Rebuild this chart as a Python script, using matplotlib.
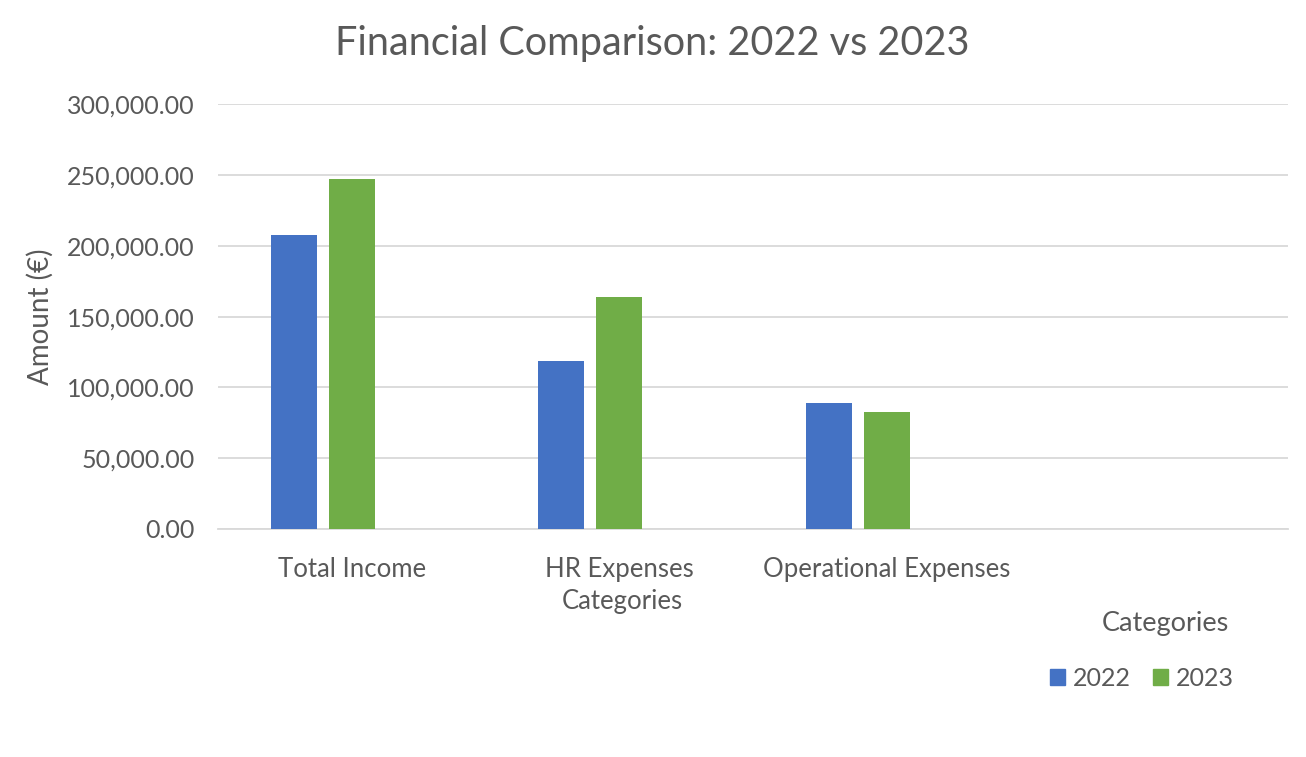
import matplotlib
matplotlib.use("Agg")
import matplotlib.pyplot as plt
from matplotlib.patches import Patch
import numpy as np

categories = ["Total Income", "HR Expenses", "Operational Expenses", ""]
values_2022 = [208000, 119000, 89200, np.nan]
values_2023 = [247000, 164000, 82500, np.nan]
series_labels = ["2022", "2023"]
yticks = [0, 50000, 100000, 150000, 200000, 250000, 300000]

BLUE = "#4472C4"
GREEN = "#70AD47"
TXT = "#595959"
GRID = "#D9D9D9"

plt.rcParams['font.family'] = ['Lato', 'DejaVu Sans']

fig = plt.figure(figsize=(13.06, 7.57), dpi=100)
ax = fig.add_axes([218/1306, 1-529/757, (1288-218)/1306, (529-104.3)/757])

x = np.arange(len(categories))
w = 0.172
ax.bar(x - 0.216, values_2022, width=w, color=BLUE, zorder=3)
ax.bar(x + 0.0, values_2023, width=w, color=GREEN, zorder=3)

ax.set_xlim(-0.5, len(categories) - 0.5)
ax.set_ylim(0, 300000)
ax.set_yticks(yticks)
ax.set_yticklabels([f"{v:,.2f}" for v in yticks])
ax.set_xticks(x)
ax.set_xticklabels(categories)
ax.tick_params(axis='y', length=0, colors=TXT, labelsize=18, pad=17)
ax.tick_params(axis='x', length=0, colors=TXT, labelsize=18.5, pad=20)
ax.grid(axis='y', color=GRID, linewidth=1.3, zorder=0)
for s in ['top', 'right', 'left']:
    ax.spines[s].set_visible(False)
ax.spines['bottom'].set_color(GRID)
ax.spines['bottom'].set_linewidth(1.3)

fig.text(40/1306, 1-317/757, "Amount (€)", rotation=90, ha='center', va='center',
         color=TXT, fontsize=20)
fig.text(622/1306, 1-601/757, "Categories", ha='center', va='center',
         color=TXT, fontsize=18.5)
fig.text(652/1306, 1-44/757, "Financial Comparison: 2022 vs 2023", ha='center',
         va='center', color=TXT, fontsize=28.5)
fig.text(1165/1306, 1-623/757, "Categories", ha='center', va='center',
         color=TXT, fontsize=19.5)

handles = [Patch(color=BLUE), Patch(color=GREEN)]
leg = fig.legend(handles, series_labels, loc='center', bbox_to_anchor=(1142/1306, 1-678/757),
                 ncol=2, frameon=False, fontsize=18, handlelength=0.6, handleheight=0.6,
                 handletextpad=0.3, columnspacing=0.9, labelcolor=TXT)

fig.savefig("out.png", dpi=100, facecolor='white')
